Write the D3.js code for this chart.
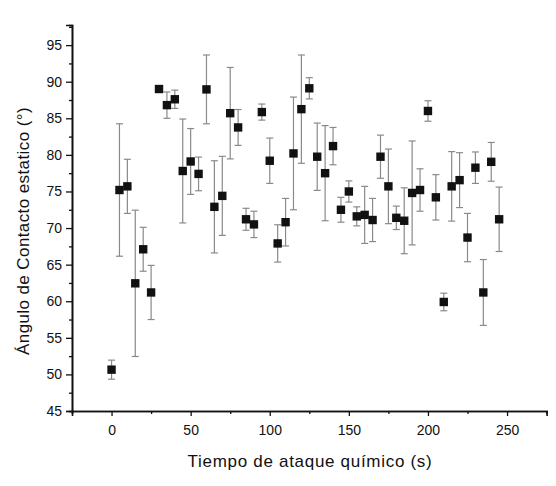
<html>
<head>
	<script src="https://d3js.org/d3.v7.min.js"></script>
<style>
body {
	margin: 0;
	background: #fff;
}
#chart svg {
	width: 556px;
	height: 486px;
	font-family: "Liberation Sans", Arial, sans-serif;
}
</style>
</head>
<body>
<div id="chart"></div>
<script type="text/javascript">

// etching time (s)
var tiempo = [0,5,10,15,20,25,30,35,40,45,50,55,60,65,70,75,80,85,90,95,
	100,105,110,115,120,125,130,135,140,145,150,155,160,165,170,175,180,185,190,195,
	200,205,210,215,220,225,230,235,240,245];
// static contact angle (deg)
var angulo = [50.65,75.2,75.7,62.45,67.1,61.2,89.0,86.8,87.6,77.8,79.1,77.4,88.95,72.9,74.4,85.7,83.75,71.2,70.5,85.85,
	79.2,67.9,70.8,80.2,86.25,89.1,79.75,77.5,81.2,72.5,75.0,71.6,71.8,71.1,79.75,75.7,71.4,71.0,74.8,75.2,
	86.0,74.2,59.9,75.7,76.55,68.7,78.25,61.2,79.05,71.2];
// error bar half width
var error = [1.3,9.05,3.7,10.0,3.0,3.7,0.3,1.8,1.25,7.1,4.5,2.3,4.7,6.3,5.4,6.25,2.45,1.5,1.8,1.1,
	3.1,2.55,3.25,7.7,7.4,1.45,4.6,6.5,2.55,1.7,1.45,1.3,3.9,2.95,2.95,5.1,1.6,4.5,7.1,2.9,
	1.4,3.1,1.2,4.75,3.75,3.3,2.15,4.5,2.65,4.4];

var xTicks = [0,50,100,150,200,250];
var xMinor = [-25,25,75,125,175,225,275];
var yTicks = [45,50,55,60,65,70,75,80,85,90,95];
var yMinor = [47.5,52.5,57.5,62.5,67.5,72.5,77.5,82.5,87.5,92.5,97.5];

var data = tiempo.map(function(t, i) {
	return { t: t, a: angulo[i], e: error[i] };
});

var x = d3.scaleLinear().domain([-25, 275]).range([72, 546.6]);
var y = d3.scaleLinear().domain([45, 97.75]).range([411, 25]);

var svg = d3.select("#chart").append("svg");

// error bars first so the squares sit on top
var bars = svg.selectAll(".err")
	.data(data)
	.enter().append("g")
	.attr("class", "err")
	.style("stroke", "#8a8a8a")
	.style("stroke-width", 1.2);

bars.append("line")
	.attr("x1", function(d) { return x(d.t); })
	.attr("x2", function(d) { return x(d.t); })
	.attr("y1", function(d) { return y(d.a + d.e); })
	.attr("y2", function(d) { return y(d.a - d.e); });
bars.append("line")
	.attr("x1", function(d) { return x(d.t) - 3.5; })
	.attr("x2", function(d) { return x(d.t) + 3.5; })
	.attr("y1", function(d) { return y(d.a + d.e); })
	.attr("y2", function(d) { return y(d.a + d.e); });
bars.append("line")
	.attr("x1", function(d) { return x(d.t) - 3.5; })
	.attr("x2", function(d) { return x(d.t) + 3.5; })
	.attr("y1", function(d) { return y(d.a - d.e); })
	.attr("y2", function(d) { return y(d.a - d.e); });

svg.selectAll(".pt")
	.data(data)
	.enter().append("rect")
	.attr("class", "pt")
	.attr("x", function(d) { return x(d.t) - 4.2; })
	.attr("y", function(d) { return y(d.a) - 4.2; })
	.attr("width", 8.4)
	.attr("height", 8.4)
	.style("fill", "#111");

// axes
svg.append("g")
	.attr("transform", "translate(0," + y(45) + ")")
	.call(d3.axisBottom(x).tickValues(xTicks).tickSize(5).tickPadding(9));
svg.append("g")
	.attr("transform", "translate(0," + y(45) + ")")
	.call(d3.axisBottom(x).tickValues(xMinor).tickSize(3).tickFormat(""));

svg.append("g")
	.attr("transform", "translate(" + x(-25) + ",0)")
	.call(d3.axisLeft(y).tickValues(yTicks).tickSize(6).tickPadding(4));
svg.append("g")
	.attr("transform", "translate(" + x(-25) + ",0)")
	.call(d3.axisLeft(y).tickValues(yMinor).tickSize(3).tickFormat(""));

svg.selectAll(".domain").style("stroke", "#111").style("stroke-width", 1.6);
svg.selectAll(".tick line").style("stroke", "#111").style("stroke-width", 1.3);
svg.selectAll(".tick text")
	.style("font-family", "'Liberation Sans', Arial, sans-serif")
	.style("font-size", "14px")
	.style("fill", "#111");

// axis titles
svg.append("text")
	.attr("x", 310)
	.attr("y", 467)
	.attr("text-anchor", "middle")
	.style("font-size", "17px")
	.style("letter-spacing", "0.7px")
	.style("fill", "#111")
	.text("Tiempo de ataque químico (s)");

svg.append("text")
	.attr("transform", "translate(29,231) rotate(-90)")
	.attr("text-anchor", "middle")
	.style("font-size", "17px")
	.style("letter-spacing", "0.4px")
	.style("fill", "#111")
	.text("Ángulo de Contacto estatico (°)");

</script>

</body>
</html>
